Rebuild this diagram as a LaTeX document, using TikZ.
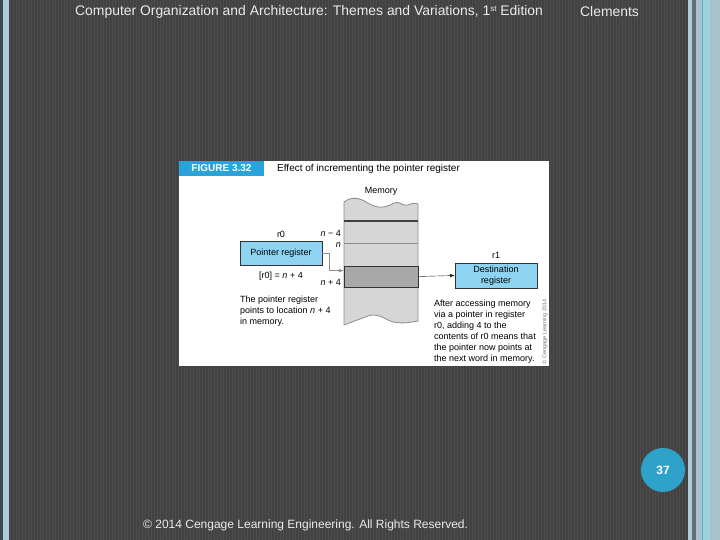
\documentclass[tikz,border=0pt]{standalone}
\usepackage{fontspec}
\setmainfont{Liberation Sans}
\usetikzlibrary{arrows.meta,positioning}

\definecolor{slidebg}{HTML}{424242}
\definecolor{stripe}{HTML}{4C4C4C}
\definecolor{edgeblue}{HTML}{AECCDA}
\definecolor{edgedark}{HTML}{3C4A52}
\definecolor{figblue}{HTML}{2AA2DA}
\definecolor{regblue}{HTML}{8ED4F2}
\definecolor{pageblue}{HTML}{2EA2C8}
\definecolor{memlight}{HTML}{D6D6D6}
\definecolor{memdark}{HTML}{A8A8A8}

\begin{document}
\begin{tikzpicture}[x=1pt, y=-1pt, font=\fontsize{9}{10.5}\selectfont,
  reg/.style={draw=black!80, fill=regblue, minimum width=82pt, minimum height=24pt, inner sep=1pt, align=center},
  lbl/.style={inner sep=0pt},
  note/.style={inner sep=0pt, align=left, font=\fontsize{9}{11}\selectfont},
  slidetext/.style={inner sep=0pt, text=white!92!black}]
\useasboundingbox (0,0) rectangle (720,540);
% slide background
\fill[slidebg] (0,0) rectangle (720,540);
\foreach \x in {10,13,...,686} \draw[stripe, line width=1pt] (\x,0) -- (\x,540);
\fill[edgedark] (0,0) rectangle (3,540);
\fill[edgeblue] (3,0) rectangle (9,540);
\fill[edgeblue] (688,0) rectangle (692,540);
\fill[edgedark!80] (692,0) rectangle (696,540);
\fill[edgeblue!95!black] (696,0) rectangle (720,540);
\fill[edgeblue!60!teal] (702,0) rectangle (703,540);
\fill[edgeblue!90!cyan] (703,0) rectangle (710,540);
\fill[edgeblue!85!gray] (710,0) rectangle (720,540);
\node[slidetext, anchor=west, font=\fontsize{13.9}{15}\selectfont] (head) at (75,12) {Computer Organization and Architecture: Themes and Variations, 1{\fontsize{8}{9}\selectfont\raisebox{4pt}{st}} Edition};
\node[slidetext, anchor=west, font=\fontsize{13.9}{15}\selectfont] (author) at (580,12) {Clements};
\node[slidetext, anchor=west, font=\fontsize{12}{14}\selectfont] (foot) at (143,525) {© 2014 Cengage Learning Engineering. All Rights Reserved.};
\node[circle, fill=pageblue, minimum size=44pt, inner sep=0pt, text=white, font=\fontsize{12}{14}\selectfont\bfseries] (page) at (663,470) {37};

% figure
\fill[white] (179,161) rectangle (549,366);
\node[fill=figblue, text=white, minimum width=85pt, minimum height=15pt, inner sep=0pt, font=\fontsize{10}{11}\selectfont\bfseries] (fig) at (221.5,168.5) {FIGURE 3.32};
\node[lbl, anchor=west, font=\fontsize{10}{11}\selectfont] (title) at (277,169) {Effect of incrementing the pointer register};

% memory column
\filldraw[fill=memlight, draw=black!45, line width=0.8pt]
  (344,202) .. controls (352,196) and (360,198) .. (368,203)
  .. controls (376,208) and (384,209) .. (394,203)
  .. controls (400,200) and (402,207) .. (408,205)
  .. controls (412,203) and (416,203) .. (418,204)
  -- (418,321) .. controls (408,323) and (398,324) .. (390,321)
  .. controls (382,317) and (376,313) .. (368,316)
  .. controls (360,319) and (352,322) .. (344,325) -- cycle;
\draw[black!75, line width=1.3pt] (344,221) -- (418,221);
\draw[black!45, line width=0.6pt] (344,243) -- (418,243);
\node[draw=black!80, fill=memdark, minimum width=74pt, minimum height=21pt, inner sep=0pt, line width=0.8pt] (cell) at (381,276.5) {};
\node[lbl] (mem) at (381,191) {Memory};

\node[lbl, anchor=east] (nm4) at (341,233) {\textit{n} − 4};
\node[lbl, anchor=east] (n) at (341,245) {\textit{n}};
\node[lbl, anchor=east] (np4) at (341,282) {\textit{n} + 4};

% registers
\node[reg] (ptr) at (281,253.5) {Pointer register};
\node[lbl, above=4pt of ptr] (r0) {r0};
\node[lbl, below=6pt of ptr] (ptrval) {[r0] = \textit{n} + 4};
\node[reg, minimum height=25pt, font=\fontsize{9}{10.5}\selectfont] (dest) at (496,275.5) {Destination\\register};
\node[lbl, above=4pt of dest] (r1) {r1};

\draw[black!45, -Latex] (ptr.east) -- ++(7,0) |- ([yshift=-5pt]cell.north west);
\draw[black!85, -Latex] (cell.east) -- (dest.west);

\node[note, anchor=north west] (leftnote) at (240,296) {The pointer register\\points to location \textit{n} + 4\\in memory.};
\node[note, anchor=north west, font=\fontsize{9}{10.9}\selectfont] (rightnote) at (434,300) {After accessing memory\\via a pointer in register\\r0, adding 4 to the\\contents of r0 means that\\the pointer now points at\\the next word in memory.};
\node[lbl, rotate=90, text=black!55, font=\fontsize{5.5}{6}\selectfont] (copy) at (545,332) {© Cengage Learning 2014};
\end{tikzpicture}
\end{document}
